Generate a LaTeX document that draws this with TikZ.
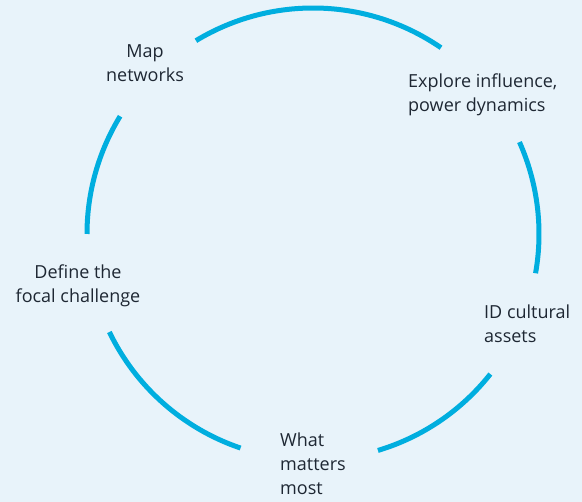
\documentclass[tikz,border=0pt]{standalone}
\usepackage{fontspec}
\setmainfont{Open Sans}
\definecolor{bgblue}{HTML}{E8F3FA}
\definecolor{ringcyan}{HTML}{00AEDF}
\definecolor{labelink}{HTML}{1E2733}

\begin{document}
\begin{tikzpicture}[x=1pt,y=1pt,
  stage/.style={text=labelink,font=\fontsize{18}{24}\selectfont,inner sep=0pt}]
  \def\r{226}
  \useasboundingbox (0,0) rectangle (582,502);
  \fill[bgblue] (0,0) rectangle (582,502);
  \coordinate (c) at (313,268);
  % Ring: five pieces, gaps left for the labels.
  \foreach \a/\b in {55.5/121.2, -10/24, -73.3/-38.3, -154.3/-108.7, 148.6/180}
    \draw[ringcyan,line width=5pt] (c) ++(\a:\r) arc[start angle=\a,end angle=\b,radius=\r];
  % Labels, clockwise from the top left (base = last line).
  \node[stage,align=center,anchor=base] (map) at (145,420) {Map\\networks};
  \node[stage,align=left,anchor=base west] (explore) at (408,390.5) {Explore influence,\\power dynamics};
  \node[stage,align=left,anchor=base west] (assets) at (484,159) {ID cultural\\assets};
  \node[stage,align=left,anchor=base west] (matters) at (280,7) {What\\matters\\most};
  \node[stage,align=center,anchor=base] (define) at (78,199) {Define the\\focal challenge};
\end{tikzpicture}
\end{document}
